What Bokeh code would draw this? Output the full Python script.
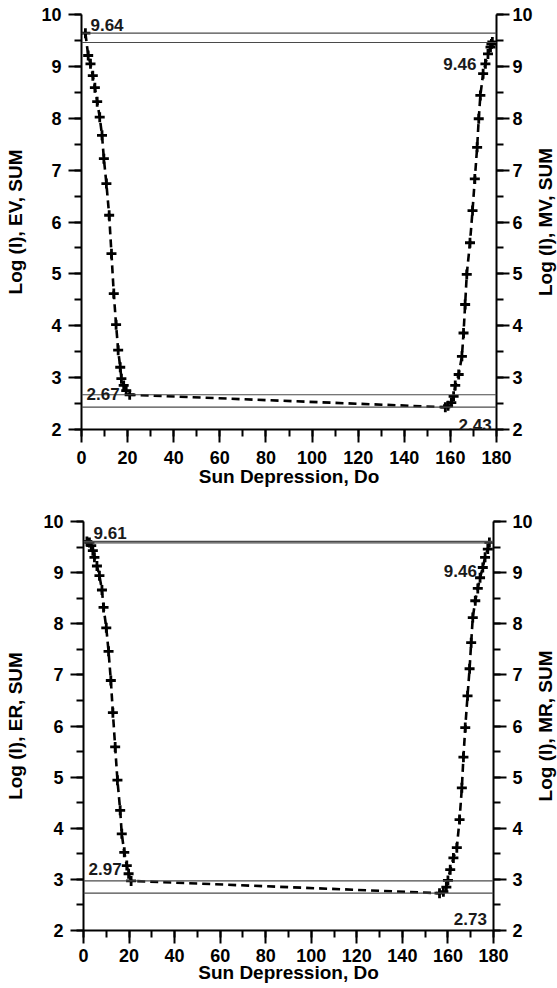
import math
from bokeh.plotting import figure
from bokeh.models import Range1d, LinearAxis, SingleIntervalTicker, Span, Label, ColumnDataSource
from bokeh.layouts import column, row
from bokeh.core.properties import value
from bokeh.embed import file_html
from bokeh.resources import INLINE

# ---------------- data ----------------
x_min, x_max = 0, 180
y_min, y_max = 2, 10

# upper chart: evening (EV) and morning (MV) branches
ev_deg = [1.7, 2.9, 3.9, 4.9, 5.8, 6.8, 7.9, 8.9, 9.7, 10.8, 12.0, 13.0, 14.0, 15.0, 15.9, 16.8, 17.3, 18.3, 19.4, 20.9]
ev_log = [9.64, 9.21, 9.05, 8.82, 8.59, 8.32, 8.02, 7.67, 7.22, 6.74, 6.13, 5.39, 4.62, 4.02, 3.53, 3.20, 2.98, 2.85, 2.75, 2.67]
mv_deg = [157.8, 159.0, 160.4, 161.4, 162.1, 163.6, 165.0, 165.7, 166.4, 167.1, 168.5, 169.6, 170.6, 171.6, 172.3, 173.0, 174.2, 175.2, 176.3, 177.4, 177.8, 178.2]
mv_log = [2.43, 2.46, 2.52, 2.64, 2.85, 3.06, 3.41, 3.86, 4.41, 4.99, 5.60, 6.22, 6.83, 7.44, 7.99, 8.44, 8.86, 9.05, 9.24, 9.37, 9.43, 9.47]
top_levels = [9.64, 9.46, 2.67, 2.43]
top_level_labels = ["9.64", "9.46", "2.67", "2.43"]

# lower chart: evening (ER) and morning (MR) branches
er_deg = [1.5, 2.6, 3.4, 4.1, 4.8, 5.9, 7.0, 8.1, 8.8, 10.0, 11.0, 12.0, 12.9, 13.9, 14.9, 16.1, 16.8, 17.9, 19.0, 19.8, 20.9]
er_log = [9.61, 9.59, 9.53, 9.43, 9.30, 9.13, 8.94, 8.66, 8.32, 7.92, 7.46, 6.89, 6.26, 5.59, 4.94, 4.35, 3.89, 3.53, 3.27, 3.11, 2.97]
mr_deg = [156.3, 158.0, 159.3, 160.0, 161.0, 162.4, 163.9, 165.1, 166.1, 166.8, 167.6, 168.6, 169.5, 170.2, 170.9, 172.0, 173.1, 174.1, 175.3, 176.3, 177.5, 178.2]
mr_log = [2.73, 2.76, 2.85, 2.98, 3.19, 3.42, 3.62, 4.17, 4.79, 5.39, 5.97, 6.59, 7.12, 7.63, 8.12, 8.45, 8.69, 8.90, 9.10, 9.30, 9.46, 9.59]
bot_levels = [9.61, 9.58, 2.97, 2.73]
bot_level_labels = ["9.61", "9.46", "2.97", "2.73"]

x_title = "Sun Depression, Do"
top_titles = ("Log (I), EV, SUM", "Log (I), MV, SUM")
bot_titles = ("Log (I), ER, SUM", "Log (I), MR, SUM")

# ---------------- style ----------------
FONT = "Liberation Sans"
W_CHART = 535
W_STRIP = 22


def style_axis(ax, tick_out, standoff, font_px, ticker):
    ax.ticker = ticker
    ax.axis_line_width = 2
    ax.axis_line_color = "black"
    ax.major_tick_line_width = 2
    ax.minor_tick_line_width = 2
    ax.major_tick_out = tick_out
    ax.major_tick_in = 0
    ax.minor_tick_out = 7
    ax.minor_tick_in = 0
    ax.major_label_standoff = standoff
    ax.major_label_text_font = FONT
    ax.major_label_text_font_style = "bold"
    ax.major_label_text_font_size = f"{font_px}px"
    ax.major_label_text_color = "black"
    ax.axis_label_text_font = FONT
    ax.axis_label_text_font_style = "bold"
    ax.axis_label_text_color = "black"
    ax.axis_label_text_font_size = "19px"


def make_chart(e_deg, e_log, m_deg, m_log, levels, level_labels, label_spots, titles,
               height, border_left, border_right, border_top, border_bottom,
               x_standoff, x_title_standoff, left_title_standoff, right_label_standoff):
    yr = Range1d(y_min, y_max)
    p = figure(width=W_CHART, height=height, x_range=Range1d(x_min, x_max), y_range=yr,
               output_backend="svg", toolbar_location=None,
               min_border_left=border_left, min_border_right=border_right,
               min_border_top=border_top, min_border_bottom=border_bottom)
    p.outline_line_color = None
    p.xgrid.visible = False
    p.ygrid.visible = False

    # reference levels
    for lv in levels:
        p.add_layout(Span(location=lv, dimension="width", line_color="#4a4a4a", line_width=1.2))

    # data curve
    xs = list(e_deg) + list(m_deg)
    ys = list(e_log) + list(m_log)
    src = ColumnDataSource(dict(x=xs, y=ys))
    p.line("x", "y", source=src, line_color="black", line_width=2.6, line_dash="8 5")
    p.scatter("x", "y", source=src, marker="cross", size=10, line_width=2.8, line_color="black")

    # level annotations
    for lv, txt, (xd, align, dy) in zip(levels, level_labels, label_spots):
        p.add_layout(Label(x=xd, y=lv, y_offset=dy, text=txt, text_align=align,
                           text_baseline="alphabetic", text_font=FONT, text_font_style="bold",
                           text_font_size="17px", text_color="#1a1a1a"))

    # axes
    xa = p.xaxis[0]
    style_axis(xa, 13, x_standoff, 18, SingleIntervalTicker(interval=20, num_minor_ticks=2))
    xa.axis_label = x_title
    xa.axis_label_standoff = x_title_standoff

    ya = p.yaxis[0]
    style_axis(ya, 13, 7, 18, SingleIntervalTicker(interval=1, num_minor_ticks=2))
    ya.axis_label = titles[0]
    ya.axis_label_standoff = left_title_standoff

    ra = LinearAxis()
    style_axis(ra, 13, right_label_standoff, 18, SingleIntervalTicker(interval=1, num_minor_ticks=2))
    ra.axis_label = None
    ra.axis_label_standoff = 0
    p.add_layout(ra, "right")

    # right-hand title, reading bottom to top, in its own narrow strip
    s = figure(width=W_STRIP, height=height, x_range=Range1d(0, 1), y_range=yr,
               output_backend="svg", toolbar_location=None, x_axis_type=None, y_axis_type=None,
               min_border_left=0, min_border_right=0,
               min_border_top=border_top, min_border_bottom=border_bottom)
    s.outline_line_color = None
    s.xgrid.visible = False
    s.ygrid.visible = False
    s.text(x=[0.45], y=[(y_min + y_max) / 2], text=[titles[1]], angle=math.pi / 2,
           text_align=value("center"), text_baseline=value("middle"),
           text_font=value(FONT), text_font_style=value("bold"),
           text_font_size=value("19px"), text_color="black")
    return row(p, s, spacing=0)


top_spots = [(3.9, "left", 8), (171.3, "right", -21), (2.2, "left", 1), (177.9, "right", -18)]
bot_spots = [(4.4, "left", 8), (172.7, "right", -28), (2.2, "left", 12), (177.1, "right", -26)]

c1 = make_chart(ev_deg, ev_log, mv_deg, mv_log, top_levels, top_level_labels, top_spots, top_titles,
                height=493, border_left=81, border_right=38, border_top=14, border_bottom=64,
                x_standoff=8, x_title_standoff=-1, left_title_standoff=12, right_label_standoff=3)
c2 = make_chart(er_deg, er_log, mr_deg, mr_log, bot_levels, bot_level_labels, bot_spots, bot_titles,
                height=495, border_left=83, border_right=42, border_top=28, border_bottom=58,
                x_standoff=5, x_title_standoff=-3, left_title_standoff=14, right_label_standoff=6)

layout = column(c1, c2, spacing=0)
open("out.html", "w").write(file_html(layout, INLINE))
